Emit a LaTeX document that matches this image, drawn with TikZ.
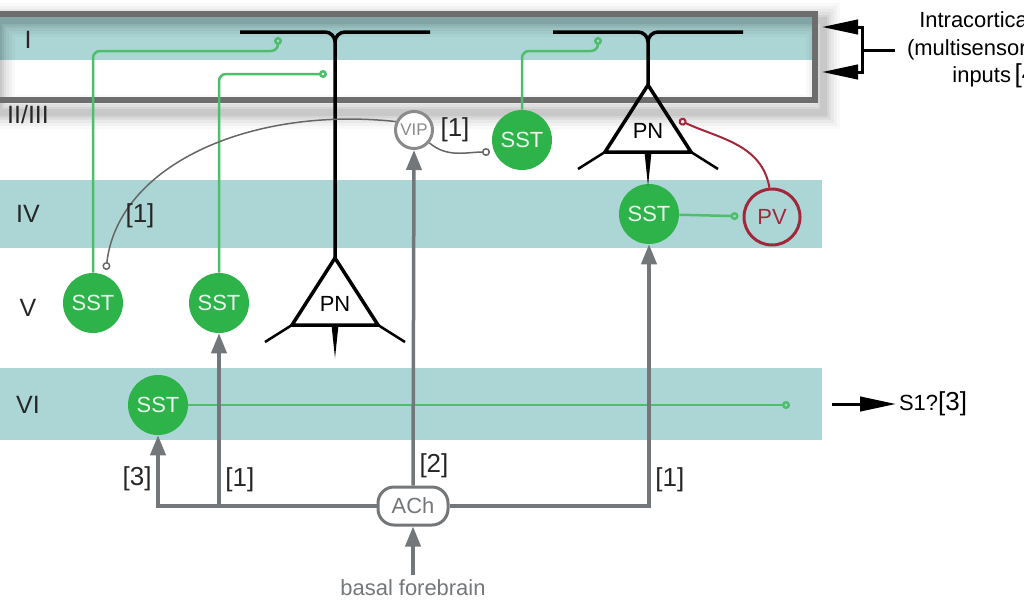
\documentclass[tikz,border=0pt]{standalone}
\usepackage{fontspec}
\setmainfont{Liberation Sans}
\usepackage{tikz}
\usetikzlibrary{arrows.meta, backgrounds}
\definecolor{bandTeal}{HTML}{ACD6D6}
\definecolor{sstGreen}{HTML}{2EB34B}
\definecolor{axGreen}{HTML}{4DBF6A}
\definecolor{pvRed}{HTML}{A0283A}
\definecolor{achGrey}{HTML}{74777A}
\definecolor{vipGrey}{HTML}{8A8A8A}
\definecolor{frameGrey}{HTML}{6D6D6D}
\newlength{\pxu}
\setlength{\pxu}{0.25mm}
\newcommand{\txt}{\fontsize{15.6pt}{19.5pt}\selectfont}
\newcommand{\lyrsz}{\fontsize{17.8pt}{20pt}\selectfont}
\newcommand{\refsz}{\fontsize{18.5pt}{20pt}\selectfont}
\newcommand{\vipsz}{\fontsize{12pt}{14pt}\selectfont}
\newcommand{\pncell}[4]{%
  \coordinate (#1-apex) at (#2,#3-67);
  \node[font=\txt] (#1) at (#2,#3-21) {PN};
  \draw[dend, line join=miter] (#1-apex) -- (#2-43,#3) -- (#2+43,#3) -- cycle;
  \draw[dend, line width=2.5\pxu] (#2-43,#3) -- (#2-70,#3+17) (#2+43,#3) -- (#2+70,#3+17);
  \fill (#2-3.5,#3) -- (#2+3.5,#3) -- (#2,#4) -- cycle;
  \draw[dend] (#2-95,32) -- (#2-10,32) to[out=0,in=90] (#2,42) -- (#1-apex);
  \draw[dend] (#2+95,32) -- (#2+10,32) to[out=180,in=90] (#2,42);
}

\begin{document}
\begin{tikzpicture}[
  x=0.25mm, y=-0.25mm,
  font=\txt,
  lyr/.style={font=\lyrsz, text=black!85},
  sst/.style={circle, fill=sstGreen, text=white!90!sstGreen, minimum size=60\pxu, inner sep=0pt},
  vipc/.style={circle, draw=vipGrey, line width=3\pxu, minimum size=37\pxu, inner sep=0pt,
               fill=white, font=\vipsz, text=vipGrey},
  pvc/.style={circle, draw=pvRed, line width=3\pxu, minimum size=56\pxu, inner sep=0pt, text=pvRed},
  achbox/.style={draw=achGrey, line width=3\pxu, rounded corners=16\pxu, minimum width=70\pxu,
                 minimum height=38\pxu, inner sep=0pt, fill=white, text=achGrey},
  cortex/.style={draw=frameGrey, line width=6\pxu, minimum width=819\pxu, minimum height=86\pxu,
                 inner sep=0pt},
  dend/.style={draw=black, line width=3.5\pxu},
  axon/.style={draw=axGreen, line width=2.5\pxu, rounded corners=7\pxu,
               -{Circle[open, length=2mm, width=2mm]}},
  inh/.style={draw=black!60, line width=1.5\pxu, -{Circle[open, length=2mm, width=2mm]}},
  pvax/.style={draw=pvRed, line width=2\pxu, -{Circle[open, length=2mm, width=2mm]}},
  ach/.style={draw=achGrey, line width=3.5\pxu, -{Triangle[length=5mm, width=3.8mm]}},
  blk/.style={draw=black, line width=3\pxu, -{Triangle[length=9mm, width=3.6mm]}},
  refl/.style={font=\refsz, text=black!85}
]
\useasboundingbox (0,0) rectangle (1024,600);

\node[cortex] (frame) at (405.5,57) {};
\begin{scope}[on background layer]
  \fill[bandTeal] (0,17) rectangle (815,60);
  \fill[bandTeal] (0,180) rectangle (822,248);
  \fill[bandTeal] (0,368) rectangle (822,440);
  \foreach \w/\o in {34/0.025, 28/0.03, 22/0.035, 16/0.04, 11/0.05, 7/0.06}
    \draw[black, opacity=\o, line width=\w\pxu]
      ([shift={(5,9)}]frame.north west) rectangle ([shift={(5,9)}]frame.south east);
\end{scope}

\node[lyr] (lyrI)   at (28,40)  {I};
\node[lyr] (lyrII)  at (28,115) {II/III};
\node[lyr] (lyrIV)  at (28,214) {IV};
\node[lyr] (lyrV)   at (28,308) {V};
\node[lyr] (lyrVI)  at (28,405) {VI};

\node[sst] (sstA) at (93,303)  {SST};
\node[sst] (sstB) at (219,303) {SST};
\node[sst] (sstC) at (522,140) {SST};
\node[sst] (sstD) at (649,214) {SST};
\node[sst] (sstE) at (158,405) {SST};
\node[vipc] (vip) at (414,130) {VIP};
\node[pvc] (pv) at (772,217) {PV};
\node[achbox] (ach) at (413,506) {ACh};
\node[text=achGrey] (bf) at (413,588) {basal forebrain};

\pncell{pnV}{335}{325}{358}
\pncell{pnII}{648}{152}{186}

\coordinate (synA) at (278,37);
\coordinate (synB) at (327,74);
\coordinate (synC) at (598,37);
\coordinate (synE) at (790,405);
\coordinate (synF) at (106,270);
\coordinate (synG) at (490,152);
\coordinate (synH) at (679,120);

\draw[axon] (sstA.north) |- (278,51) -- (synA);
\draw[axon] (sstB.north) |- (synB);
\draw[axon] (sstC.north) |- (598,51) -- (synC);
\draw[axon, shorten >=4\pxu] (sstD) -- (pv);
\draw[axon] (sstE) -- (synE);

\draw[inh] (vip.155) .. controls (250,106) and (118,165) .. (synF);
\draw[inh] (vip.-40) to[out=-40,in=180] (synG);
\draw[pvax] (pv.95) to[out=100,in=-25] (synH);

\draw[ach] (ach.west) -| node[pos=0.69, left, refl] {[3]} (sstE.south);
\draw[ach] (sstB |- ach) -- node[pos=0.15, right, refl] {[1]} (sstB.south);
\draw[ach] (ach.north) -- node[pos=0.06, right, refl] {[2]} (vip.south);
\draw[ach] (ach.east) -| node[pos=0.55, right, refl] {[1]} (sstD.south);
\draw[ach] (bf) -- (ach);

\node[refl] (vipref) at (455,130) {[1]};
\node[refl] (ivref) at (140,216) {[1]};

\node[align=center] (intra) at (976,50)
  {Intracortical\\(multisensory)\\\hspace*{44\pxu}inputs\,{\refsz[4]}};
\coordinate (fork) at (862,50);
\coordinate (inA) at (822,27);
\coordinate (inB) at (822,72);
\draw[line width=3\pxu, shorten <=7\pxu] (intra.west) -- (fork);
\draw[blk] (fork) |- (inA);
\draw[blk] (fork) |- (inB);

\node[anchor=west, inner sep=2pt] (s1) at (896,404) {S1?{\refsz[3]}};
\coordinate (s1from) at (832,404);
\draw[blk] (s1from) -- (s1.west);
\end{tikzpicture}
\end{document}
